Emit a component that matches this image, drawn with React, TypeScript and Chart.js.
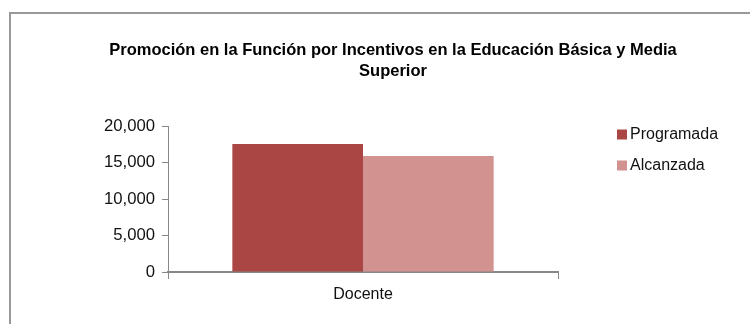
import React, { useEffect, useRef } from "react";
import { Chart, registerables } from "chart.js";

Chart.register(...registerables);

const categories = ["Docente"];
const seriesNames = ["Programada", "Alcanzada"];
const programada = [17540];
const alcanzada = [15900];
const seriesColors = ["#AA4644", "#D29290"];
const titleLines = [
  "Promoción en la Función por Incentivos en la Educación Básica y Media",
  "Superior",
];
const yTicks = { min: 0, max: 20000, step: 5000 };

const FONT = "'Liberation Sans', Arial, sans-serif";

const framePlugin = {
  id: "frame",
  beforeDraw(chart: any) {
    const ctx = chart.ctx;
    ctx.save();
    ctx.fillStyle = "#ffffff";
    ctx.fillRect(0, 0, chart.width, chart.height);
    ctx.strokeStyle = "#999999";
    ctx.lineWidth = 2;
    ctx.strokeRect(10, 13, chart.width + 50, chart.height + 50);
    ctx.restore();
  },
};

const titlePlugin = {
  id: "customTitle",
  afterDraw(chart: any) {
    const ctx = chart.ctx;
    ctx.save();
    ctx.fillStyle = "#000000";
    ctx.font = `bold 16.5px ${FONT}`;
    ctx.textAlign = "center";
    ctx.textBaseline = "middle";
    titleLines.forEach((line, i) => {
      ctx.fillText(line, 393, 50 + i * 21);
    });
    ctx.restore();
  },
};

const legendPlugin = {
  id: "customLegend",
  afterDraw(chart: any) {
    const ctx = chart.ctx;
    ctx.save();
    ctx.font = `16px ${FONT}`;
    ctx.textBaseline = "middle";
    ctx.textAlign = "left";
    chart.data.datasets.forEach((ds: any, i: number) => {
      const cy = 134.5 + i * 31;
      ctx.fillStyle = ds.backgroundColor;
      ctx.fillRect(617, cy - 5, 10, 10);
      ctx.fillStyle = "#111111";
      ctx.fillText(ds.label, 630, cy);
    });
    ctx.restore();
  },
};

export default function App() {
  const ref = useRef<HTMLCanvasElement>(null);
  useEffect(() => {
    if (!ref.current) return;
    const chart = new Chart(ref.current, {
      type: "bar",
      data: {
        labels: categories,
        datasets: [
          { label: seriesNames[0], data: programada, backgroundColor: seriesColors[0] },
          { label: seriesNames[1], data: alcanzada, backgroundColor: seriesColors[1] },
        ],
      },
      options: {
        responsive: false,
        animation: false,
        layout: { padding: { left: 88, right: 192, top: 126, bottom: 12 } },
        datasets: { bar: { categoryPercentage: 0.67, barPercentage: 1.0 } },
        plugins: {
          legend: { display: false },
          title: { display: false },
          tooltip: { enabled: false },
        },
        scales: {
          x: {
            afterFit: (s: any) => {
              s.height = 40;
            },
            grid: {
              offset: true,
              drawOnChartArea: false,
              drawTicks: true,
              tickLength: 7,
              color: "#888888",
              lineWidth: 1,
            },
            border: { display: true, color: "#888888", width: 2 },
            ticks: {
              color: "#111111",
              font: { family: FONT, size: 16 },
              padding: 6,
            },
          },
          y: {
            min: yTicks.min,
            max: yTicks.max,
            afterFit: (s: any) => {
              s.width = 80;
            },
            grid: {
              drawOnChartArea: false,
              drawTicks: true,
              tickLength: 6,
              color: "#888888",
            },
            border: { display: true, color: "#888888", width: 1 },
            ticks: {
              stepSize: yTicks.step,
              color: "#111111",
              font: { family: FONT, size: 16.7 },
              padding: 7,
            },
          },
        },
      },
      plugins: [framePlugin, titlePlugin, legendPlugin],
    });
    return () => chart.destroy();
  }, []);
  return (
    <canvas
      ref={ref}
      width={750}
      height={324}
      style={{ position: "absolute", left: 0, top: 0, display: "block" }}
    />
  );
}
